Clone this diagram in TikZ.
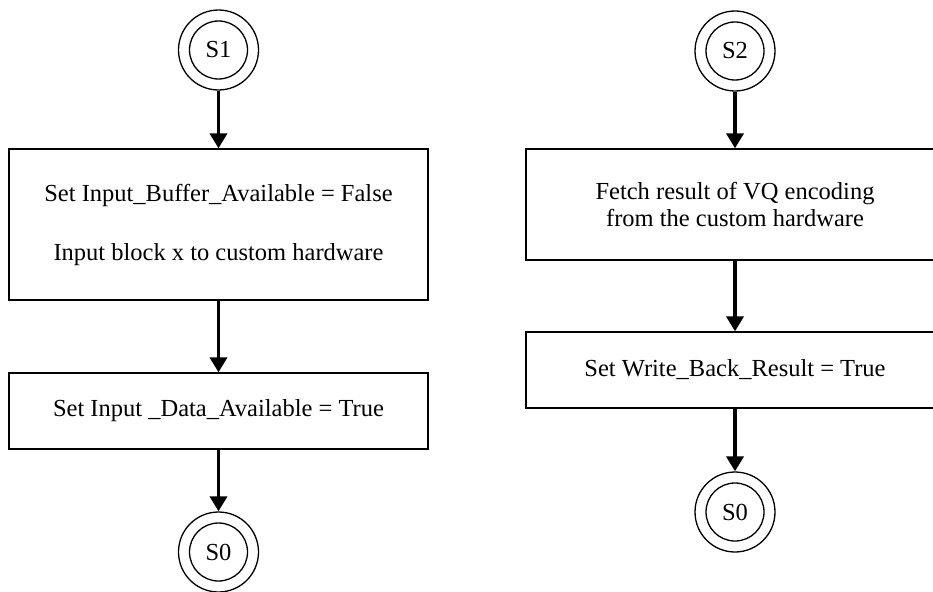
\documentclass[tikz,border=0pt]{standalone}
\usepackage{fontspec}
\setmainfont{Liberation Serif}
\usetikzlibrary{arrows.meta}
\begin{document}
\begin{tikzpicture}[x=1pt,y=-1pt,
  every node/.style={font=\fontsize{24.5}{27}\selectfont},
  state/.style={circle, draw, line width=1.3pt, minimum size=80pt, inner sep=0pt,
    path picture={\draw[line width=1.3pt] (path picture bounding box.center) circle[radius=29pt];}},
  stepbox/.style={draw, line width=1.3pt, align=center, inner sep=0pt},
  flow/.style={line width=3.6pt, -{Triangle[length=15pt,width=17pt]}}]
\clip (0,0) rectangle (933,591);

% left flow: S1 -> buffer handoff -> data flag -> S0
\node[state] (s1) at (218.5,50) {S1};
\node[stepbox, minimum width=419pt, minimum height=151pt] (b1) at (218.5,224.5)
  {Set Input\_Buffer\_Available = False\\[32pt]Input block x to custom hardware};
\node[stepbox, minimum width=419pt, minimum height=76pt] (b2) at (218.5,411)
  {Set Input \_Data\_Available = True};
\node[state] (s0a) at (218.5,552) {S0};

\draw[flow] (s1) -- (b1);
\draw[flow] (b1) -- (b2);
\draw[flow] (b2) -- (s0a);

% right flow: S2 -> fetch result -> write-back flag -> S0
\node[state] (s2) at (735,51) {S2};
\node[stepbox, minimum width=418pt, minimum height=111pt] (c1) at (735,204.5)
  {Fetch result of VQ encoding\\from the custom hardware};
\node[stepbox, minimum width=418pt, minimum height=76pt] (c2) at (735,370)
  {Set Write\_Back\_Result = True};
\node[state] (s0b) at (735,512) {S0};

\draw[flow] (s2) -- (c1);
\draw[flow] (c1) -- (c2);
\draw[flow] (c2) -- (s0b);
\end{tikzpicture}
\end{document}
